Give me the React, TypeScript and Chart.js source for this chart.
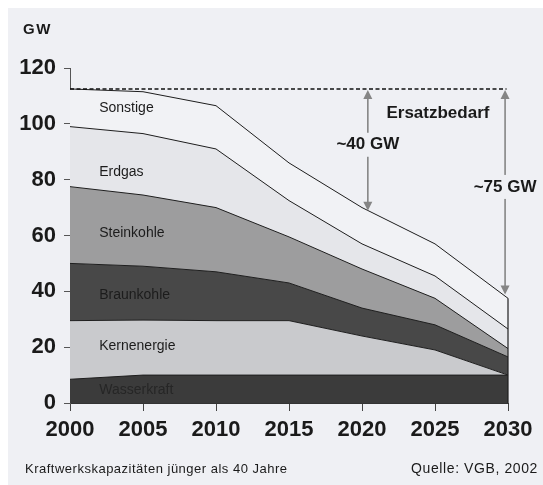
import { useEffect, useRef } from "react";
import { Chart, registerables } from "chart.js";
Chart.register(...registerables);

const years = [2000, 2005, 2010, 2015, 2020, 2025, 2030];
const wasserkraft = [8.5, 10, 10, 10, 10, 10, 10];
const kernenergie = [21, 19.7, 19.5, 19.5, 14, 9, 0];
const braunkohle = [20.5, 19.3, 17.5, 13.5, 10, 9, 6.5];
const steinkohle = [27.5, 25.5, 23, 16.5, 14, 9.5, 3];
const erdgas = [21.5, 22, 21, 13, 9, 8, 7];
const sonstige = [13.5, 15, 15.5, 13.5, 13, 11.5, 11];

const seriesNames = ["Wasserkraft", "Kernenergie", "Braunkohle", "Steinkohle", "Erdgas", "Sonstige"];
const seriesColors = ["#3b3b3b", "#c9cacd", "#484848", "#9d9d9e", "#e5e6ea", "#f1f2f5"];
const labelColors = ["#262626", "#1c1c1c", "#1c1c1c", "#1c1c1c", "#1c1c1c", "#1c1c1c"];
const labelX = 2002;
const labelY = [4.7, 20.4, 38.7, 60.9, 82.8, 105.7];

const demandLevel = 112.5;
const arrowX = [2020.4, 2029.8];
const arrowTo = [68.5, 38.5];
const arrowText = ["~40 GW", "~75 GW"];
const arrowTextY = [92.5, 77.4];
const headline = { text: "Ersatzbedarf", x: 2025.2, y: 103.9 };

const BG = "#eff0f4";
const FONT = "'Liberation Sans', Arial, sans-serif";

export default function App() {
  const ref = useRef<HTMLCanvasElement | null>(null);
  useEffect(() => {
    if (!ref.current) return;
    const all = [wasserkraft, kernenergie, braunkohle, steinkohle, erdgas, sonstige];
    const datasets = all.map((d, i) => ({
      label: seriesNames[i],
      data: years.map((x, k) => ({ x, y: d[k] })),
      backgroundColor: seriesColors[i],
      borderColor: "#1e1e1e",
      borderWidth: 1,
      pointRadius: 0,
      tension: 0,
      fill: i === 0 ? "origin" : "-1",
    }));

    const deco = {
      id: "deco",
      beforeDraw(chart: any) {
        const c = chart.ctx;
        c.save();
        c.fillStyle = BG;
        c.fillRect(0, 0, chart.width, chart.height);
        c.restore();
      },
      afterDatasetsDraw(chart: any) {
        const c = chart.ctx;
        const xs = chart.scales.x;
        const ys = chart.scales.y;
        c.save();
        const lastIdx = years.length - 1;
        let top = 0;
        all.forEach((d) => (top += d[lastIdx]));
        c.strokeStyle = "#1e1e1e";
        c.lineWidth = 1.2;
        c.beginPath();
        c.moveTo(xs.getPixelForValue(years[lastIdx]), ys.getPixelForValue(0));
        c.lineTo(xs.getPixelForValue(years[lastIdx]), ys.getPixelForValue(top));
        c.stroke();

        c.font = `14px ${FONT}`;
        c.textAlign = "left";
        c.textBaseline = "middle";
        seriesNames.forEach((n, i) => {
          c.fillStyle = labelColors[i];
          c.fillText(n, xs.getPixelForValue(labelX), ys.getPixelForValue(labelY[i]));
        });

        c.strokeStyle = "#111";
        c.lineWidth = 1.5;
        c.setLineDash([4, 2.5]);
        c.beginPath();
        c.moveTo(xs.getPixelForValue(2000), ys.getPixelForValue(demandLevel));
        c.lineTo(xs.getPixelForValue(2029.9), ys.getPixelForValue(demandLevel));
        c.stroke();
        c.setLineDash([]);

        c.font = `bold 17px ${FONT}`;
        arrowX.forEach((ax, i) => {
          const px = xs.getPixelForValue(ax);
          const y1 = ys.getPixelForValue(demandLevel);
          const y2 = ys.getPixelForValue(arrowTo[i]);
          c.strokeStyle = "#858585";
          c.fillStyle = "#858585";
          c.lineWidth = 1.6;
          c.beginPath();
          c.moveTo(px, y1 + 8);
          c.lineTo(px, y2 - 8);
          c.stroke();
          c.beginPath();
          c.moveTo(px, y1 + 1);
          c.lineTo(px - 4.5, y1 + 10);
          c.lineTo(px + 4.5, y1 + 10);
          c.closePath();
          c.fill();
          c.beginPath();
          c.moveTo(px, y2 - 1);
          c.lineTo(px - 4.5, y2 - 10);
          c.lineTo(px + 4.5, y2 - 10);
          c.closePath();
          c.fill();
          const ty = ys.getPixelForValue(arrowTextY[i]);
          const w = c.measureText(arrowText[i]).width;
          c.fillStyle = BG;
          c.fillRect(px - w / 2 - 2, ty - 12, w + 4, 24);
          c.fillStyle = "#1a1a1a";
          c.textAlign = "center";
          c.fillText(arrowText[i], px, ty);
        });
        c.textAlign = "center";
        c.fillStyle = "#1a1a1a";
        c.fillText(headline.text, xs.getPixelForValue(headline.x), ys.getPixelForValue(headline.y));
        c.restore();
      },
      afterDraw(chart: any) {
        const c = chart.ctx;
        c.save();
        c.fillStyle = "#1a1a1a";
        c.textBaseline = "middle";
        c.font = `bold 15px ${FONT}`;
        (c as any).letterSpacing = "1.5px";
        c.textAlign = "left";
        c.fillText("GW", 15, 22);
        c.font = `13px ${FONT}`;
        (c as any).letterSpacing = "0.5px";
        c.fillText("Kraftwerkskapazitäten jünger als 40 Jahre", 17, 461);
        c.font = `14px ${FONT}`;
        (c as any).letterSpacing = "0.6px";
        c.textAlign = "right";
        c.fillText("Quelle: VGB, 2002", 530, 461);
        (c as any).letterSpacing = "0px";
        c.restore();
      },
    };

    const chart = new Chart(ref.current, {
      type: "line",
      data: { datasets: datasets as any },
      options: {
        animation: false,
        responsive: false,
        events: [],
        layout: { padding: { left: 0, right: 35, top: 60, bottom: 37 } },
        plugins: { legend: { display: false }, tooltip: { enabled: false } },
        scales: {
          x: {
            type: "linear",
            min: 2000,
            max: 2030,
            ticks: {
              stepSize: 5,
              callback: (v: any) => String(v),
              font: { family: FONT, size: 22, weight: "bold" },
              color: "#1a1a1a",
              padding: 6,
              maxRotation: 0,
            },
            grid: { drawOnChartArea: false, drawTicks: true, tickLength: 8, color: "#444" },
            border: { color: "#333", width: 1 },
            afterFit: (s: any) => {
              s.height = 45;
            },
          },
          y: {
            stacked: true,
            min: 0,
            max: 120,
            ticks: {
              stepSize: 20,
              font: { family: FONT, size: 22, weight: "bold" },
              color: "#1a1a1a",
              padding: 8,
            },
            grid: { drawOnChartArea: false, drawTicks: true, tickLength: 6, color: "#555" },
            border: { color: "#555", width: 1 },
            afterFit: (s: any) => {
              s.width = 62;
            },
          },
        },
      },
      plugins: [deco],
    });
    return () => chart.destroy();
  }, []);

  return (
    <div style={{ position: "fixed", left: 8, top: 8, width: 535, height: 477 }}>
      <canvas ref={ref} width={535} height={477} style={{ display: "block", width: 535, height: 477 }} />
    </div>
  );
}
